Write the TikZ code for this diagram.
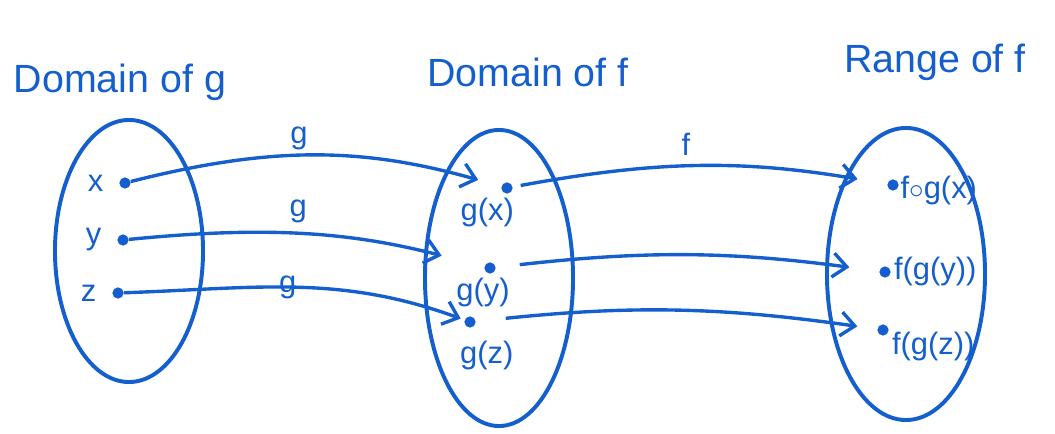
\documentclass[tikz,border=0pt]{standalone}
\usepackage{fontspec}
\setmainfont{Liberation Sans}
\usetikzlibrary{shapes.geometric, arrows.meta, positioning}
\definecolor{ink}{RGB}{20,95,205}
\tikzset{
    set/.style={ellipse, draw=ink, line width=2.8pt, inner sep=0pt},
    title/.style={text=ink, font=\fontsize{28}{32}\selectfont},
    elem/.style={circle, fill=ink, inner sep=0pt, minimum size=8pt},
    lbl/.style={text=ink, font=\fontsize{22}{26}\selectfont, inner sep=1pt},
    map/.style={draw=ink, line width=2.4pt, -{Straight Barb[length=3.5mm, width=6mm]}}
}

\begin{document}
\begin{tikzpicture}[x=0.025cm, y=0.025cm]
    \useasboundingbox (0,0) rectangle (1055,434);

    % the three sets
    \node (dg) [set, minimum width=3.7cm, minimum height=6.55cm] at (129,183) {};
    \node (df) [set, minimum width=3.7cm, minimum height=7.4cm] at (499,156) {};
    \node (rf) [set, minimum width=3.95cm, minimum height=7.3cm] at (906,160) {};

    \node (tdg) [title] at (120,352) {Domain of g};
    \node (tdf) [title] at (528,362) {Domain of f};
    \node (trf) [title] at (935,372) {Range of f};

    % elements
    \node (x) [elem] at (125,251) {};
    \node (y) [elem] at (123,194) {};
    \node (z) [elem] at (118,141) {};
    \node [lbl, left=10pt of x] {x};
    \node [lbl, left=10pt of y] {y};
    \node [lbl, left=10pt of z] {z};

    \node (gx) [elem] at (507,246) {};
    \node (gy) [elem] at (490,166) {};
    \node (gz) [elem] at (470,112) {};
    \node [lbl, below=2pt of gx, xshift=-14pt] {g(x)};
    \node [lbl, below=2pt of gy, xshift=-5pt] {g(y)};
    \node [lbl, below=8pt of gz, xshift=12pt] {g(z)};

    \node (fx) [elem] at (893,249) {};
    \node (fy) [elem] at (885,162) {};
    \node (fz) [elem] at (883,104) {};
    \node [lbl, right=0pt of fx, yshift=-4pt] {f$\circ$g(x)};
    \node [lbl, right=1pt of fy] {f(g(y))};
    \node [lbl, right=1pt of fz, yshift=-12pt] {f(g(z))};

    % the maps
    \draw [map, shorten >=0.6cm] (x) to[bend left=15] node[lbl, above=2pt, pos=0.45] {g} (gx);
    \draw [map, shorten >=1.1cm] (y) to[bend left=10] node[lbl, above=6pt, pos=0.47] {g} (gy);
    \draw [map, shorten >=0.1cm] (z) to[out=2, in=160] node[lbl, pos=0.47] {g} (gz);

    \draw [map, shorten <=0.2cm, shorten >=0.75cm] (gx) to[bend left=10] node[lbl, above=6pt, pos=0.46] {f} (fx);
    \draw [map, shorten <=0.6cm, shorten >=0.75cm] (gy) to[bend left=7] (fy);
    \draw [map, shorten <=0.75cm, shorten >=0.5cm] (gz) to[bend left=7] (fz);
\end{tikzpicture}
\end{document}
